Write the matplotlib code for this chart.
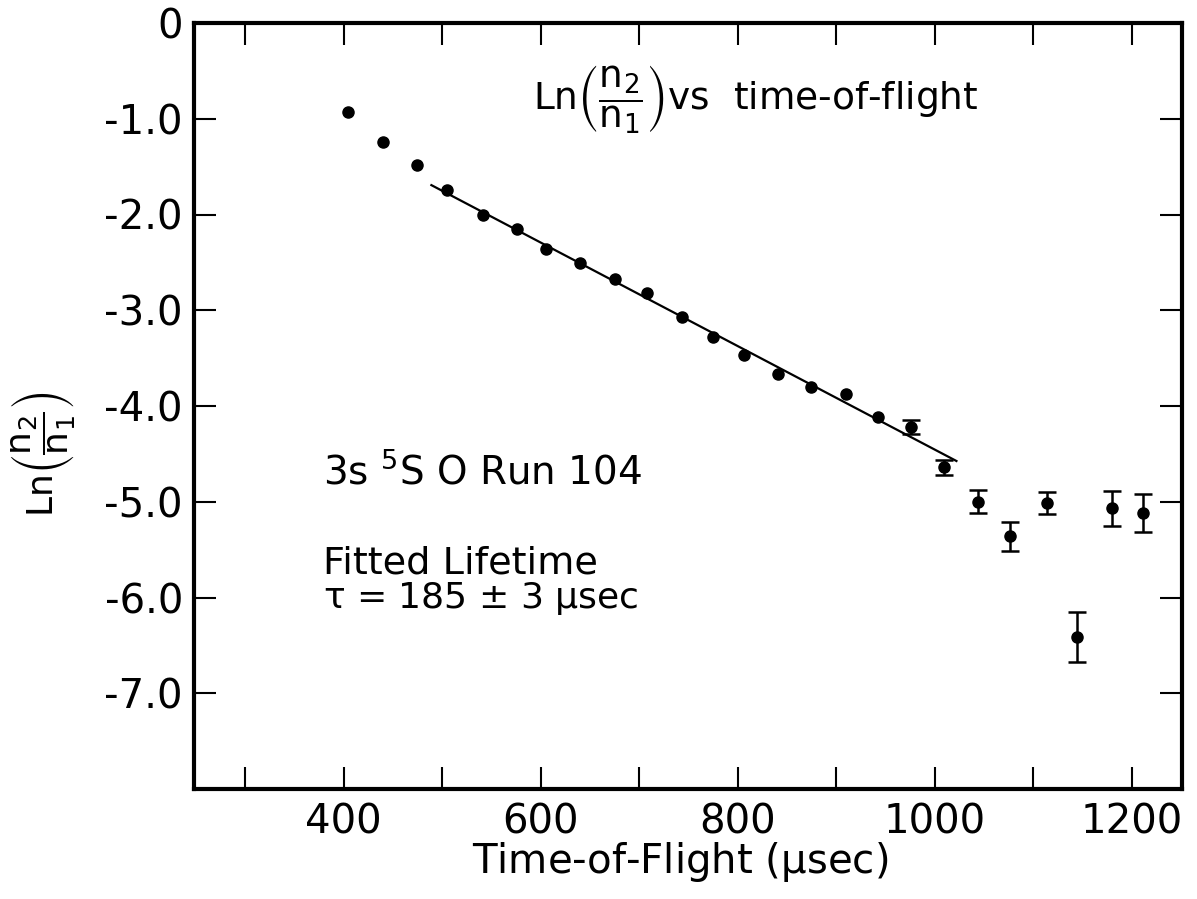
import matplotlib
matplotlib.use('Agg')
import matplotlib.pyplot as plt
from matplotlib.ticker import MultipleLocator, FixedLocator, FuncFormatter
import numpy as np

plt.rcParams['font.family'] = ['DejaVu Sans']
plt.rcParams['mathtext.fontset'] = 'dejavusans'
plt.rcParams['mathtext.default'] = 'regular'
plt.rcParams['axes.unicode_minus'] = False

# --- data -------------------------------------------------------------------
tof = [404, 440, 474, 505, 541, 576, 605, 640, 675, 708, 743, 775, 806,
       841, 874, 910, 942, 976, 1009, 1044, 1076, 1114, 1144, 1180, 1211]
ln_ratio = [-0.93, -1.24, -1.48, -1.74, -2.01, -2.15, -2.36, -2.51, -2.67,
            -2.82, -3.07, -3.28, -3.47, -3.67, -3.80, -3.87, -4.11, -4.22,
            -4.64, -5.00, -5.36, -5.01, -6.41, -5.07, -5.12]
err = [0, 0, 0, 0, 0, 0, 0, 0, 0, 0, 0, 0, 0, 0, 0, 0, 0, 0.07,
       0.08, 0.12, 0.15, 0.115, 0.26, 0.18, 0.20]

# fitted line: ln(n2/n1) = a - t / tau
fit_tau = 185.0
fit_a = 0.95
fit_range = [489, 1022]

W, H = 1197, 899
fig = plt.figure(figsize=(W / 100, H / 100), dpi=100)
ax = fig.add_axes([194 / W, 1 - 789 / H, (1182 - 194) / W, (789 - 23) / H])


def fx(px):
    return px / W


def fy(py):
    return 1 - py / H


x = np.array(tof, dtype=float)
y = np.array(ln_ratio, dtype=float)
e = np.array(err, dtype=float)
has_err = e > 0

ax.plot(x[~has_err], y[~has_err], 'o', color='black', markersize=8)
ax.errorbar(x[has_err], y[has_err], yerr=e[has_err], fmt='o', color='black',
            markersize=8, capsize=6.5, elinewidth=1.8, capthick=1.8)

xf = np.array(fit_range, dtype=float)
ax.plot(xf, fit_a - xf / fit_tau, color='black', linewidth=1.6)

ax.set_xlim(248, 1251)
ax.set_ylim(-8, 0)

ax.xaxis.set_major_locator(MultipleLocator(100))
ax.xaxis.set_major_formatter(FuncFormatter(
    lambda v, p: f'{int(round(v))}' if round(v) % 200 == 0 else ''))
ax.yaxis.set_major_locator(FixedLocator([0, -1, -2, -3, -4, -5, -6, -7]))
ax.yaxis.set_major_formatter(FuncFormatter(
    lambda v, p: '0' if abs(v) < 1e-9 else f'{v:.1f}'))

ax.tick_params(direction='in', length=16, width=1.5, top=True, right=True,
               labelsize=29, colors='black')
ax.tick_params(axis='x', pad=10)
ax.tick_params(axis='y', pad=8)
for lbl in ax.get_xticklabels():
    lbl.set_x(lbl.get_position()[0])
for s in ax.spines.values():
    s.set_linewidth(3)

# axis labels
fig.text(fx(680), fy(862), r'Time-of-Flight ($\mu$sec)', ha='center',
         va='center', fontsize=29)
fig.text(fx(43), fy(454), r'Ln$\left(\dfrac{n_2}{n_1}\right)$', rotation=90,
         ha='center', va='center', fontsize=26)

# annotations
fig.text(fx(533), fy(110), r'Ln$\left(\dfrac{n_2}{n_1}\right)$vs  time-of-flight',
         ha='left', va='baseline', fontsize=27)
fig.text(fx(323), fy(483), r'3s $^5$S O Run 104', ha='left',
         va='baseline', fontsize=28)
fig.text(fx(323), fy(573), 'Fitted Lifetime', ha='left', va='baseline',
         fontsize=27.5)
fig.text(fx(323), fy(608), r'$\tau$ = 185 ± 3 $\mu$sec', ha='left',
         va='baseline', fontsize=26)

fig.savefig('out.png', dpi=100, facecolor='white')
